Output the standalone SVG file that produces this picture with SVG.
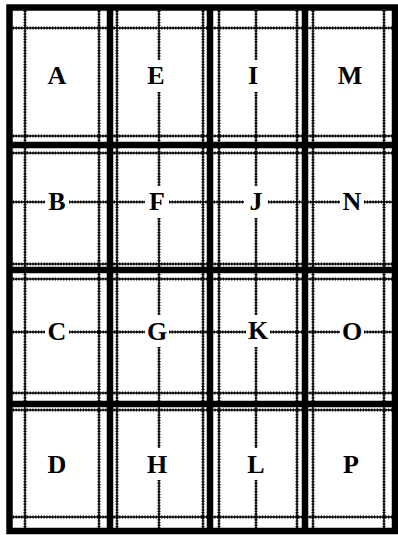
<svg xmlns="http://www.w3.org/2000/svg" width="398" height="535" viewBox="0 0 398 535">
<style>
.w{stroke:#000;stroke-width:1.5;fill:none}
.wd{stroke:#000;stroke-width:3;fill:none;stroke-dasharray:1.2 1.6}
.t{stroke:#000;stroke-width:6.5;fill:none}
.l{font-family:"Liberation Serif","Times New Roman",serif;font-weight:bold;font-size:26px;fill:#000;text-anchor:middle}
</style>
<rect width="398" height="535" fill="#fff"/>
<g id="connectors">
<g id="wavy">
<path class="w" d="M25 8V531M99 8V531M117 8V531M203 8V531M219 8V531M297 8V531M313 8V531M384 8V531M10 28H395M10 136H395M10 153H395M10 264H395M10 279H395M10 393H395M10 410H395M10 517H395"/>
<path class="wd" d="M25 8V531M99 8V531M117 8V531M203 8V531M219 8V531M297 8V531M313 8V531M384 8V531M10 28H395M10 136H395M10 153H395M10 264H395M10 279H395M10 393H395M10 410H395M10 517H395"/>
<path class="w" d="M159 8V60M159 92V186M159 218V315M159 347V448M159 480V531M256 8V60M256 92V186M256 218V315M256 347V448M256 480V531M10 202H45M69 202H145M169 202H244M268 202H340M364 202H395M10 332H45M69 332H145M169 332H246M270 332H340M364 332H395"/>
<path class="wd" d="M159 8V60M159 92V186M159 218V315M159 347V448M159 480V531M256 8V60M256 92V186M256 218V315M256 347V448M256 480V531M10 202H45M69 202H145M169 202H244M268 202H340M364 202H395M10 332H45M69 332H145M169 332H246M270 332H340M364 332H395"/>
</g>
<g id="thick">
<path class="t" d="M9.5 4.5V534M110 4.5V534M210 4.5V534M305 4.5V534M395 4.5V534M6.5 7.5H398M6.5 145H398M6.5 270H398M6.5 404H398M6.5 531H398"/>
</g>
</g>
<g id="A"><text class="l" x="57" y="84">A</text></g>
<g id="B"><text class="l" x="57" y="210">B</text></g>
<g id="C"><text class="l" x="57" y="340">C</text></g>
<g id="D"><text class="l" x="57" y="473">D</text></g>
<g id="E"><text class="l" x="156" y="84">E</text></g>
<g id="F"><text class="l" x="157" y="210">F</text></g>
<g id="G"><text class="l" x="157" y="340">G</text></g>
<g id="H"><text class="l" x="157" y="473">H</text></g>
<g id="I"><text class="l" x="253" y="84">I</text></g>
<g id="J"><text class="l" x="256" y="210">J</text></g>
<g id="K"><text class="l" x="258" y="339">K</text></g>
<g id="L"><text class="l" x="256" y="473">L</text></g>
<g id="M"><text class="l" x="350" y="84">M</text></g>
<g id="N"><text class="l" x="352" y="210">N</text></g>
<g id="O"><text class="l" x="352" y="340">O</text></g>
<g id="P"><text class="l" x="351" y="473">P</text></g>
</svg>
